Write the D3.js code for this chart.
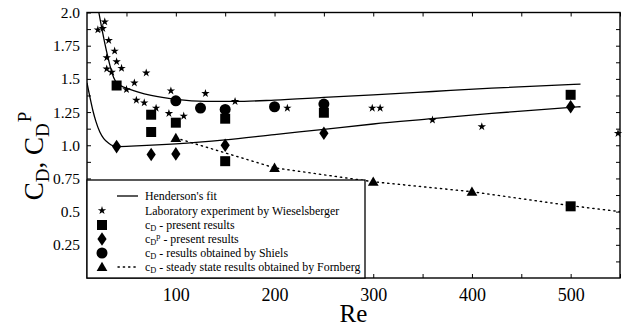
<!DOCTYPE html>
<html>
<head>
<meta charset="utf-8">
<script src="https://cdn.jsdelivr.net/npm/d3@7"></script>
<style>
  html, body { margin: 0; padding: 0; background: #fff; }
  svg { display: block; }
  text { font-family: "Liberation Serif", "Tinos", "Times New Roman", serif; fill: #000; }
</style>
</head>
<body>
<svg id="chart" width="624" height="327"></svg>
<script>
// Henderson's fit (upper curve: c_D, lower curve: c_D^p)
const hendersonCdRe = [22, 25, 28, 31, 34, 37, 40, 45, 52, 62, 75, 100, 130, 160, 200, 250, 300, 360, 420, 510];
const hendersonCd   = [2.0, 1.88, 1.77, 1.67, 1.58, 1.51, 1.47, 1.445, 1.425, 1.40, 1.375, 1.345, 1.33, 1.33, 1.34, 1.36, 1.38, 1.405, 1.43, 1.46];
const hendersonCpRe = [10, 13, 16, 19, 23, 27, 32, 36, 40, 60, 100, 150, 200, 250, 300, 360, 420, 510];
const hendersonCp   = [1.47, 1.36, 1.26, 1.18, 1.10, 1.05, 1.015, 0.997, 0.99, 0.995, 1.01, 1.04, 1.08, 1.12, 1.16, 1.20, 1.24, 1.29];

// Laboratory experiment by Wieselsberger
const wieselRe = [21, 26, 28, 30, 30, 32, 35, 38, 40, 45, 50, 58, 60, 68, 70, 80, 93, 95, 108, 130, 160, 213, 299, 307, 360, 410, 548];
const wieselCd = [1.87, 1.88, 1.93, 1.66, 1.575, 1.79, 1.55, 1.71, 1.63, 1.58, 1.42, 1.47, 1.34, 1.32, 1.545, 1.28, 1.24, 1.41, 1.22, 1.39, 1.33, 1.28, 1.28, 1.28, 1.19, 1.14, 1.09];

// c_D - present results
const presentCdRe = [40, 75, 75, 100, 150, 150, 250, 500, 500];
const presentCd   = [1.45, 1.23, 1.10, 1.17, 1.20, 0.88, 1.245, 1.38, 0.54];

// c_D^p - present results
const presentCpRe = [40, 75, 100, 150, 250, 500];
const presentCp   = [0.99, 0.93, 0.935, 1.0, 1.09, 1.29];

// c_D - results obtained by Shiels
const shielsRe = [100, 125, 150, 200, 250];
const shielsCd = [1.335, 1.28, 1.27, 1.29, 1.31];

// c_D - steady state results obtained by Fornberg (markers + dotted trend)
const fornbergRe = [100, 200, 300, 400];
const fornbergCd = [1.055, 0.83, 0.725, 0.65];
const fornbergTailRe = [500, 550];
const fornbergTailCd = [0.545, 0.50];

// Axis ticks
const xTickLabels = [100, 200, 300, 400, 500];
const yTickLabels = ["0.25", "0.5", "0.75", "1.0", "1.25", "1.5", "1.75", "2.0"];

const svg = d3.select("#chart");
const L = 87, R = 620, T = 12.5, B = 278;

const x = d3.scaleLinear().domain([10, 550]).range([L, R]);
const y = d3.scaleLinear().domain([0, 2]).range([B, T]);

const zip = (a, b) => a.map((v, i) => [v, b[i]]);

// clip region for plotted marks
svg.append("defs").append("clipPath").attr("id", "plotClip")
  .append("rect").attr("x", L).attr("y", T).attr("width", R - L).attr("height", B - T);

const plot = svg.append("g").attr("clip-path", "url(#plotClip)");

const line = d3.line().x(d => x(d[0])).y(d => y(d[1])).curve(d3.curveMonotoneX);

plot.append("path").datum(zip(hendersonCdRe, hendersonCd))
  .attr("d", line).attr("fill", "none").attr("stroke", "#000").attr("stroke-width", 1.3);
plot.append("path").datum(zip(hendersonCpRe, hendersonCp))
  .attr("d", line).attr("fill", "none").attr("stroke", "#000").attr("stroke-width", 1.3);

const lin = d3.line().x(d => x(d[0])).y(d => y(d[1]));
plot.append("path")
  .datum(zip(fornbergRe.concat(fornbergTailRe), fornbergCd.concat(fornbergTailCd)))
  .attr("d", lin).attr("fill", "none").attr("stroke", "#000")
  .attr("stroke-width", 1.4).attr("stroke-dasharray", "1.3 4").attr("stroke-linecap", "round");

// marker shapes
const starPath = d3.symbol().type(d3.symbolStar).size(22)();
const squarePath = d3.symbol().type(d3.symbolSquare).size(100)();
const circlePath = d3.symbol().type(d3.symbolCircle).size(95)();
const trianglePath = d3.symbol().type(d3.symbolTriangle).size(50)();
const diamondPath = "M0,-6.8L4.6,0L0,6.8L-4.6,0Z";

function markers(g, xs, ys, path, dy) {
  g.selectAll(null).data(zip(xs, ys)).enter().append("path")
    .attr("d", path)
    .attr("transform", d => `translate(${x(d[0])},${y(d[1]) + (dy || 0)})`)
    .attr("fill", "#000");
}

const pts = svg.append("g");
markers(pts, wieselRe, wieselCd, starPath);
markers(pts, presentCdRe, presentCd, squarePath);
markers(pts, presentCpRe, presentCp, diamondPath);
markers(pts, shielsRe, shielsCd, circlePath);
markers(pts, fornbergRe, fornbergCd, trianglePath, 1);

// axes with inward ticks
const minorX = d3.range(50, 551, 50);
const minorY = d3.range(0.125, 2.0, 0.125);

const xAxisB = svg.append("g").attr("transform", `translate(0,${B})`)
  .call(d3.axisBottom(x).tickValues(minorX).tickSize(-4).tickPadding(10)
    .tickFormat(d => xTickLabels.includes(d) ? d : ""));
const xAxisT = svg.append("g").attr("transform", `translate(0,${T})`)
  .call(d3.axisTop(x).tickValues(minorX).tickSize(-4).tickFormat(""));
const yAxisL = svg.append("g").attr("transform", `translate(${L},0)`)
  .call(d3.axisLeft(y).tickValues(minorY.concat([2.0])).tickSize(-4).tickPadding(7)
    .tickFormat(d => {
      const s = yTickLabels.find(t => Math.abs(+t - d) < 1e-6);
      return s || "";
    }));
const yAxisR = svg.append("g").attr("transform", `translate(${R},0)`)
  .call(d3.axisRight(y).tickValues(minorY).tickSize(-4).tickFormat(""));

[xAxisB, xAxisT, yAxisL, yAxisR].forEach(g => {
  g.attr("font-family", null);
  g.select(".domain").remove();
  g.selectAll(".tick line").attr("stroke", "#000").attr("stroke-width", 1);
  g.selectAll("text").attr("fill", "#000");
});
xAxisB.selectAll("text").attr("font-size", 18);
yAxisL.selectAll("text").attr("font-size", 15.5);

// frame
svg.append("rect").attr("x", L).attr("y", T).attr("width", R - L).attr("height", B - T)
  .attr("fill", "none").attr("stroke", "#000").attr("stroke-width", 1.4);

// axis titles
svg.append("text").attr("x", (L + R) / 2).attr("y", 322).attr("text-anchor", "middle")
  .attr("font-size", 25).text("Re");

const yt = svg.append("text").attr("transform", "translate(43,156) rotate(-90)")
  .attr("text-anchor", "middle").attr("font-size", 27);
yt.append("tspan").text("C");
yt.append("tspan").attr("font-size", 19).attr("dy", 6).text("D");
yt.append("tspan").attr("dy", -6).text(", C");
yt.append("tspan").attr("font-size", 19).attr("dy", 6).text("D");
yt.append("tspan").attr("font-size", 19).attr("dy", -18).attr("dx", 1).text("P");

// legend
const lg = svg.append("g");
lg.append("rect").attr("x", L).attr("y", 180).attr("width", 365 - L).attr("height", B - 180)
  .attr("fill", "#fff").attr("stroke", "#000").attr("stroke-width", 1.3);

const rows = [196, 210.5, 225, 239, 253, 267];
const sx = 102, tx = 145;
lg.append("line").attr("x1", 117).attr("x2", 138).attr("y1", rows[0]).attr("y2", rows[0])
  .attr("stroke", "#000").attr("stroke-width", 1.3);
lg.append("path").attr("d", starPath).attr("transform", `translate(${sx},${rows[1]})`);
lg.append("path").attr("d", squarePath).attr("transform", `translate(${sx},${rows[2]})`);
lg.append("path").attr("d", diamondPath).attr("transform", `translate(${sx},${rows[3]})`);
lg.append("path").attr("d", circlePath).attr("transform", `translate(${sx},${rows[4]})`);
lg.append("path").attr("d", trianglePath).attr("transform", `translate(${sx},${rows[5] + 1})`);
lg.append("line").attr("x1", 118).attr("x2", 138).attr("y1", rows[5]).attr("y2", rows[5])
  .attr("stroke", "#000").attr("stroke-width", 1.4).attr("stroke-dasharray", "1.3 4")
  .attr("stroke-linecap", "round");

const fs = 11.9;
function legendText(yy, parts) {
  const t = lg.append("text").attr("x", tx).attr("y", yy + 4).attr("font-size", fs);
  parts.forEach(p => {
    const s = t.append("tspan").text(p.t);
    if (p.sub) s.attr("font-size", 8.3).attr("dy", 2);
    if (p.sup) s.attr("font-size", 8.3).attr("dy", -6);
    if (p.back) s.attr("dy", p.back);
  });
}
legendText(rows[0], [{ t: "Henderson's fit" }]);
legendText(rows[1], [{ t: "Laboratory experiment by Wieselsberger" }]);
legendText(rows[2], [{ t: "c" }, { t: "D", sub: true }, { t: " - present results", back: -2 }]);
legendText(rows[3], [{ t: "c" }, { t: "D", sub: true }, { t: "p", sup: true }, { t: " - present results", back: 4 }]);
legendText(rows[4], [{ t: "c" }, { t: "D", sub: true }, { t: " - results obtained by Shiels", back: -2 }]);
legendText(rows[5], [{ t: "c" }, { t: "D", sub: true }, { t: " - steady state results obtained by Fornberg", back: -2 }]);
</script>
</body>
</html>
